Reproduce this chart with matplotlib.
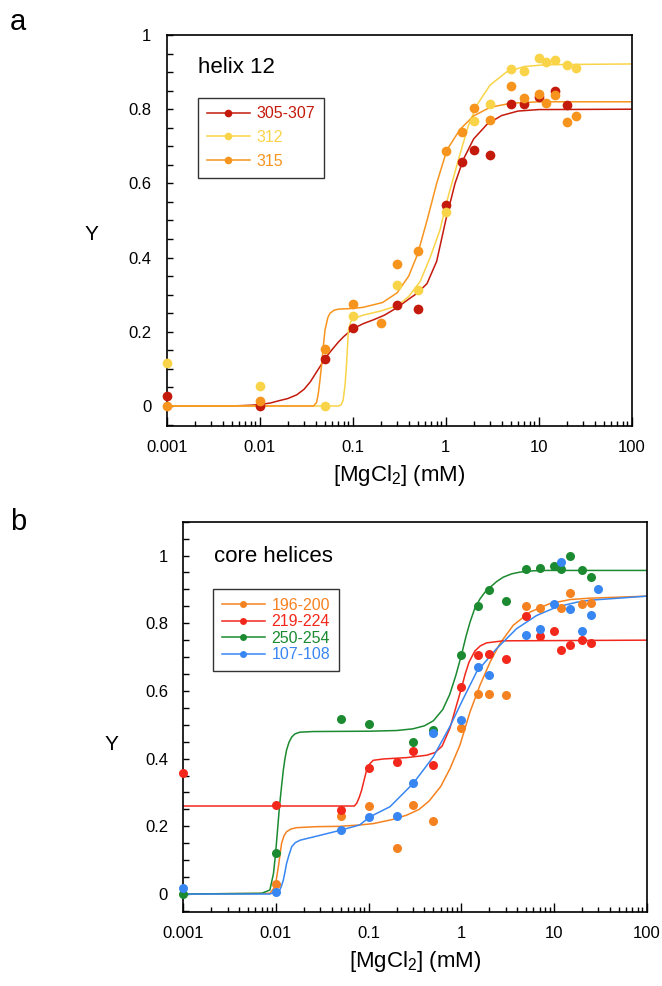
import matplotlib
matplotlib.use("Agg")
import matplotlib.pyplot as plt
from matplotlib.lines import Line2D
from matplotlib.ticker import FixedLocator, NullFormatter, MultipleLocator

plt.rcParams['font.family'] = ['Liberation Sans', 'DejaVu Sans']
plt.rcParams['mathtext.default'] = 'regular'

# ---------------- data: panel a (helix 12) ----------------
xa_pts = {
    '305-307': [0.001, 0.01, 0.05, 0.1, 0.3, 0.5, 1, 1.5, 2, 3, 5, 7, 10, 15, 20],
    '312': [0.001, 0.01, 0.05, 0.1, 0.3, 0.5, 1, 2, 3, 5, 7, 10, 12, 15, 20, 25],
    '315': [0.001, 0.01, 0.05, 0.1, 0.2, 0.3, 0.5, 1, 1.5, 2, 3, 5, 7, 10, 12, 15, 20, 25],
}
ya_pts = {
    '305-307': [0.028, 0.0, 0.127, 0.21, 0.272, 0.261, 0.541, 0.657, 0.69, 0.677, 0.814, 0.813, 0.832, 0.848, 0.811],
    '312': [0.116, 0.055, 0.0, 0.243, 0.327, 0.313, 0.524, 0.768, 0.813, 0.908, 0.902, 0.938, 0.926, 0.933, 0.919, 0.911],
    '315': [0.0, 0.014, 0.154, 0.276, 0.223, 0.383, 0.417, 0.687, 0.738, 0.804, 0.77, 0.862, 0.829, 0.84, 0.817, 0.838, 0.765, 0.781],
}
# fitted curves
xa_fit = {
    '305-307': [0.001, 0.005, 0.008, 0.01, 0.013, 0.016, 0.02, 0.025, 0.03, 0.035, 0.04, 0.045, 0.05, 0.06, 0.07,
                0.08, 0.1, 0.13, 0.17, 0.22, 0.3, 0.4, 0.5, 0.63, 0.8, 1.0, 1.26, 1.55, 2.0, 2.8, 4.0, 6.0, 10, 100],
    '312': [0.001, 0.07, 0.075, 0.079, 0.083, 0.086, 0.09, 0.095, 0.1, 0.13, 0.2, 0.3, 0.4, 0.53, 0.68, 0.87, 1.0,
            1.21, 1.43, 1.75, 2.15, 3.0, 4.5, 7, 12, 100],
    '315': [0.001, 0.038, 0.041, 0.0427, 0.0445, 0.0465, 0.0485, 0.0504, 0.054, 0.057, 0.063, 0.07, 0.1, 0.13, 0.21,
            0.3, 0.4, 0.5, 0.63, 0.8, 1.03, 1.43, 2.0, 3.0, 5.0, 10, 100],
}
ya_fit = {
    '305-307': [0, 0, 0.002, 0.004, 0.008, 0.014, 0.02, 0.03, 0.045, 0.065, 0.088, 0.108, 0.127, 0.152, 0.172,
                0.187, 0.208, 0.222, 0.233, 0.245, 0.265, 0.288, 0.305, 0.33, 0.39, 0.5, 0.6, 0.665, 0.72, 0.76,
                0.783, 0.795, 0.799, 0.8],
    '312': [0, 0, 0.003, 0.016, 0.06, 0.115, 0.205, 0.226, 0.235, 0.245, 0.256, 0.27, 0.295, 0.335, 0.4, 0.475,
            0.54, 0.615, 0.68, 0.755, 0.81, 0.865, 0.9, 0.915, 0.92, 0.922],
    '315': [0, 0, 0.01, 0.034, 0.07, 0.115, 0.165, 0.205, 0.238, 0.25, 0.258, 0.261, 0.263, 0.266, 0.279, 0.305,
            0.35, 0.41, 0.5, 0.6, 0.69, 0.746, 0.782, 0.805, 0.816, 0.82, 0.82],
}
series_a = ['305-307', '312', '315']
colors_a = ['#C41A0C', '#F9D448', '#F7941E']

# ---------------- data: panel b (core helices) ----------------
xb_pts = {
    '196-200': [0.01, 0.05, 0.1, 0.2, 0.3, 0.5, 1, 1.5, 2, 3, 5, 7, 12, 15, 20, 25],
    '219-224': [0.001, 0.01, 0.05, 0.1, 0.2, 0.3, 0.5, 1, 1.5, 2, 3, 5, 7, 10, 12, 15, 20, 25],
    '250-254': [0.001, 0.01, 0.05, 0.1, 0.3, 0.5, 1, 1.5, 2, 3, 5, 7, 10, 12, 15, 20, 25],
    '107-108': [0.001, 0.01, 0.05, 0.1, 0.2, 0.3, 0.5, 1, 1.5, 2, 5, 7, 10, 12, 15, 20, 25, 30],
}
yb_pts = {
    '196-200': [0.029, 0.23, 0.26, 0.135, 0.262, 0.215, 0.491, 0.592, 0.592, 0.589, 0.85, 0.845, 0.846, 0.889, 0.856, 0.859],
    '219-224': [0.358, 0.262, 0.248, 0.373, 0.389, 0.422, 0.38, 0.611, 0.705, 0.709, 0.693, 0.822, 0.763, 0.777, 0.722, 0.737, 0.749, 0.742],
    '250-254': [0.0, 0.122, 0.516, 0.501, 0.449, 0.484, 0.706, 0.852, 0.899, 0.865, 0.961, 0.964, 0.968, 0.961, 0.998, 0.956, 0.938],
    '107-108': [0.019, 0.005, 0.189, 0.227, 0.231, 0.327, 0.477, 0.513, 0.671, 0.646, 0.766, 0.784, 0.857, 0.98, 0.843, 0.776, 0.825, 0.9],
}
xb_fit = {
    '196-200': [0.001, 0.0086, 0.0098, 0.0106, 0.0115, 0.0122, 0.013, 0.0145, 0.0167, 0.0275, 0.049, 0.08, 0.112,
                0.18, 0.257, 0.35, 0.45, 0.6, 0.753, 0.966, 1.24, 1.59, 2.04, 2.61, 3.63, 5.5, 9.0, 14.9, 24.4, 100],
    '219-224': [0.001, 0.07, 0.0743, 0.079, 0.084, 0.089, 0.095, 0.103, 0.112, 0.144, 0.257, 0.423, 0.52, 0.62,
                0.753, 0.87, 1.0, 1.1, 1.21, 1.40, 1.6, 1.87, 2.83, 100],
    '250-254': [0.001, 0.007, 0.0086, 0.0094, 0.0099, 0.0104, 0.0109, 0.0115, 0.012, 0.0125, 0.013, 0.0138, 0.0148,
                0.016, 0.018, 0.025, 0.1, 0.2, 0.3, 0.4, 0.5, 0.63, 0.75, 0.87, 1.0, 1.12, 1.24, 1.4, 1.59, 1.8,
                2.04, 2.4, 2.83, 3.5, 4.28, 6.0, 8.3, 100],
    '107-108': [0.001, 0.0086, 0.011, 0.0115, 0.012, 0.0125, 0.013, 0.0138, 0.0148, 0.0162, 0.0182, 0.0275, 0.049,
                0.08, 0.103, 0.17, 0.303, 0.497, 0.753, 1.04, 1.46, 2.4, 3.95, 6.5, 10.7, 17.5, 24.4, 100],
}
yb_fit = {
    '196-200': [0, 0.002, 0.022, 0.08, 0.15, 0.172, 0.184, 0.192, 0.196, 0.199, 0.2, 0.204, 0.208, 0.22, 0.233,
                0.25, 0.275, 0.318, 0.37, 0.44, 0.538, 0.617, 0.685, 0.74, 0.794, 0.833, 0.858, 0.87, 0.874, 0.88],
    '219-224': [0.26, 0.26, 0.268, 0.285, 0.307, 0.335, 0.366, 0.385, 0.395, 0.399, 0.403, 0.41, 0.418, 0.437,
                0.49, 0.55, 0.607, 0.65, 0.685, 0.718, 0.733, 0.742, 0.748, 0.75],
    '250-254': [0, 0.002, 0.012, 0.061, 0.12, 0.19, 0.258, 0.32, 0.366, 0.4, 0.425, 0.448, 0.464, 0.473, 0.478,
                0.48, 0.481, 0.483, 0.488, 0.497, 0.512, 0.545, 0.59, 0.645, 0.705, 0.76, 0.803, 0.845, 0.872,
                0.892, 0.906, 0.923, 0.936, 0.946, 0.951, 0.955, 0.956, 0.956],
    '107-108': [0, 0.0, 0.012, 0.025, 0.041, 0.065, 0.09, 0.115, 0.14, 0.152, 0.159, 0.171, 0.188, 0.204, 0.228,
                0.258, 0.327, 0.405, 0.495, 0.575, 0.656, 0.725, 0.784, 0.823, 0.848, 0.862, 0.868, 0.88],
}
series_b = ['196-200', '219-224', '250-254', '107-108']
colors_b = ['#F58220', '#F2281C', '#1B8A30', '#3886F2']

xtick_vals = [0.001, 0.01, 0.1, 1, 10, 100]
xtick_labels = ['0.001', '0.01', '0.1', '1', '10', '100']
ytick_vals = [0, 0.2, 0.4, 0.6, 0.8, 1]
ytick_labels = ['0', '0.2', '0.4', '0.6', '0.8', '1']

fig = plt.figure(figsize=(6.62, 9.86), dpi=100)
ax_a = fig.add_axes([0.2518, 0.5683, 0.7024, 0.3962])
ax_b = fig.add_axes([0.2769, 0.0751, 0.7000, 0.3958])


def style_axes(ax, ytop, ylab_xy):
    ax.set_xscale('log')
    ax.set_xlim(0.001, 100)
    ax.set_ylim(-0.053, ytop)
    ax.xaxis.set_major_locator(FixedLocator(xtick_vals))
    ax.set_xticklabels(xtick_labels)
    minors = [m * d for d in xtick_vals[:-1] for m in range(2, 10)]
    ax.xaxis.set_minor_locator(FixedLocator(minors))
    ax.xaxis.set_minor_formatter(NullFormatter())
    ax.set_yticks(ytick_vals)
    ax.set_yticklabels(ytick_labels)
    ax.yaxis.set_minor_locator(MultipleLocator(0.05))
    ax.tick_params(axis='both', which='both', direction='in', labelsize=12, width=1.0,
                   top=False, right=False)
    ax.tick_params(axis='x', which='major', length=6.5, pad=10)
    ax.tick_params(axis='x', which='minor', length=3.5)
    ax.tick_params(axis='y', which='both', length=4.5, pad=11)
    for s in ax.spines.values():
        s.set_linewidth(1.2)
    ax.set_xlabel('[MgCl$_2$] (mM)', fontsize=16)
    ax.xaxis.labelpad = 6
    ax.set_ylabel('Y', fontsize=15, rotation=0, va='center', ha='center')
    ax.yaxis.set_label_coords(*ylab_xy)


style_axes(ax_a, 1.0, (-0.161, 0.49))
style_axes(ax_b, 1.1, (-0.154, 0.43))

handles_a = []
for name, c in zip(series_a, colors_a):
    ax_a.plot(xa_fit[name], ya_fit[name], color=c, lw=1.1, zorder=2)
    ax_a.plot(xa_pts[name], ya_pts[name], 'o', color=c, ms=7, mec='none', clip_on=False, zorder=3)
    handles_a.append(Line2D([], [], color=c, lw=1.1, marker='o', ms=5.5, mec='none'))

handles_b = []
for name, c in zip(series_b, colors_b):
    ax_b.plot(xb_fit[name], yb_fit[name], color=c, lw=1.1, zorder=2)
    ax_b.plot(xb_pts[name], yb_pts[name], 'o', color=c, ms=6.5, mec='none', clip_on=False, zorder=3)
    handles_b.append(Line2D([], [], color=c, lw=1.1, marker='o', ms=5, mec='none'))

leg_a = ax_a.legend(handles_a, series_a, loc='upper left', bbox_to_anchor=(0.067, 0.84),
                    fontsize=11.5, frameon=True, fancybox=False, edgecolor='black',
                    handlelength=2.7, handletextpad=0.4, labelspacing=0.55, borderpad=0.55,
                    borderaxespad=0)
leg_a.get_frame().set_linewidth(1.0)
for t, c in zip(leg_a.get_texts(), colors_a):
    t.set_color(c)

leg_b = ax_b.legend(handles_b, series_b, loc='upper left', bbox_to_anchor=(0.064, 0.828),
                    fontsize=11.5, frameon=True, fancybox=False, edgecolor='black',
                    handlelength=2.7, handletextpad=0.4, labelspacing=0.1, borderpad=0.55,
                    borderaxespad=0)
leg_b.get_frame().set_linewidth(1.0)
for t, c in zip(leg_b.get_texts(), colors_b):
    t.set_color(c)

ax_a.text(0.068, 0.917, 'helix 12', transform=ax_a.transAxes, fontsize=16, va='center', ha='left')
ax_b.text(0.067, 0.91, 'core helices', transform=ax_b.transAxes, fontsize=16, va='center', ha='left')

fig.text(18 / 662, 1 - 22 / 986, 'a', fontsize=21, ha='center', va='center')
fig.text(18 / 662, 1 - 522 / 986, 'b', fontsize=21, ha='center', va='center')

fig.savefig('out.png', dpi=100, facecolor='white')
